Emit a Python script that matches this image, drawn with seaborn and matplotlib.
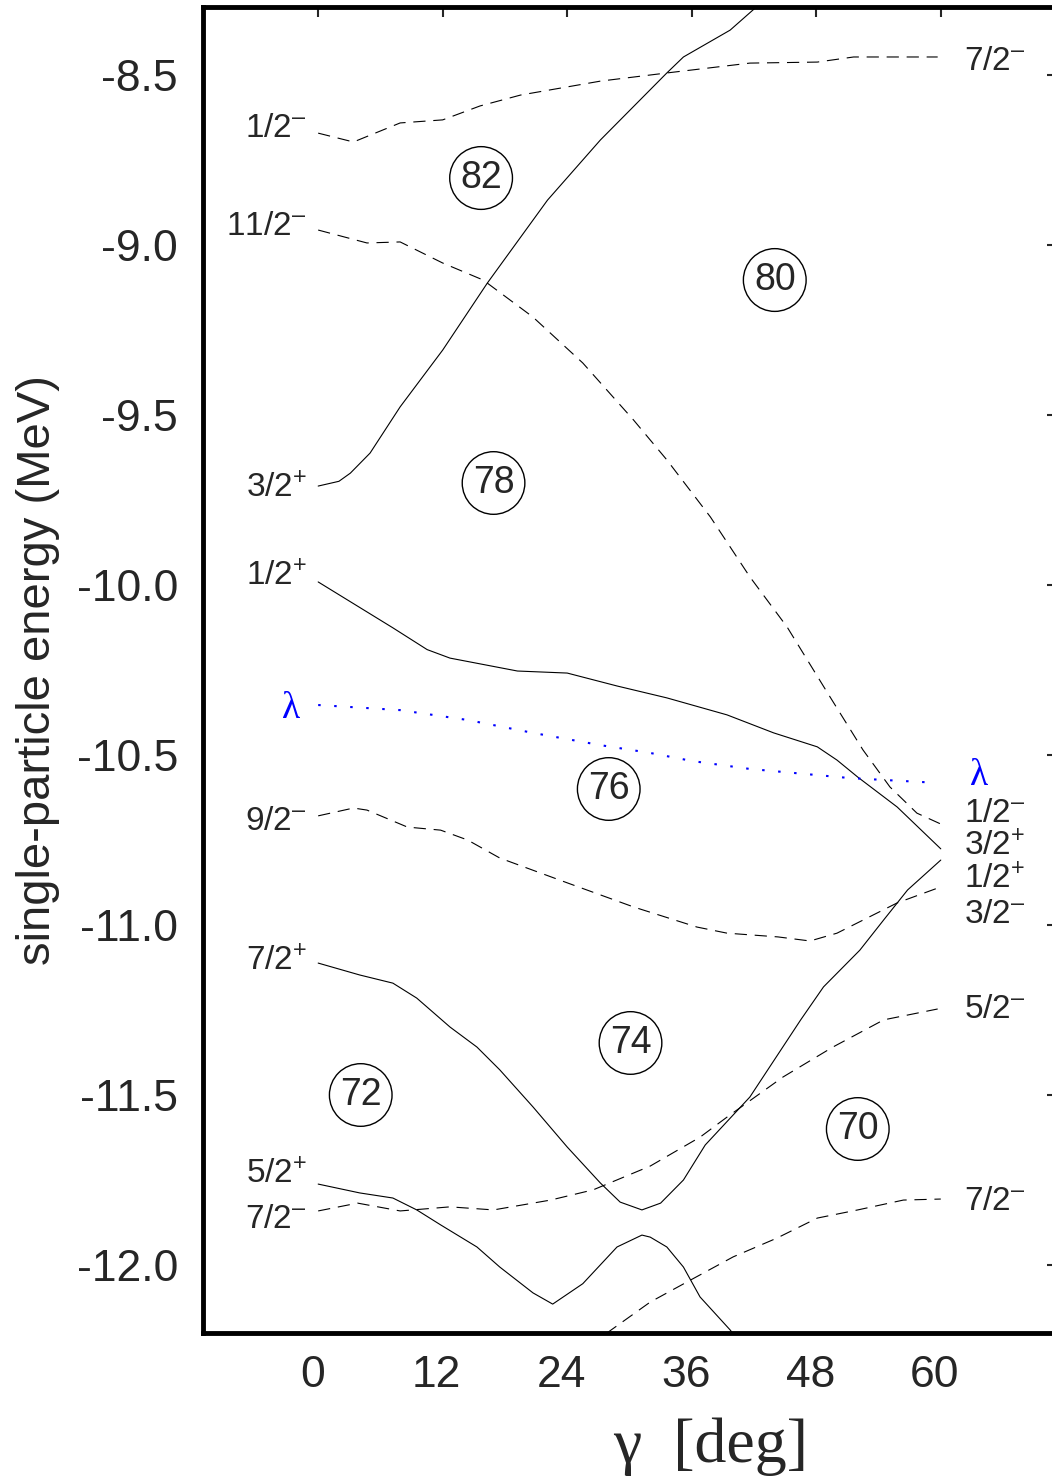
import numpy as np
import pandas as pd
import seaborn as sns
import matplotlib.pyplot as plt
from matplotlib.transforms import ScaledTranslation

# single-particle levels vs gamma
g_top_12m = [0, 3.4, 7.9, 12.0, 15.6, 19.5, 27.2, 33.6, 41.6, 48.1, 51.6, 59.7]
e_top_12m = [-8.671, -8.697, -8.641, -8.632, -8.591, -8.559, -8.518, -8.494, -8.465, -8.462, -8.447, -8.447]

g_112m = [0, 4.7, 7.9, 12.0, 15.9, 20.7, 25.5, 30.4, 33.6, 37.8, 41.6, 45.2, 49.1, 52.5, 55.1, 57.7, 60.0]
e_112m = [-8.956, -8.994, -8.991, -9.053, -9.103, -9.212, -9.347, -9.515, -9.632, -9.800, -9.976,
          -10.124, -10.318, -10.485, -10.594, -10.671, -10.703]

g_32p = [0, 2.0, 3.1, 5.0, 7.9, 12.0, 16.3, 22.1, 27.2, 33.6, 35.2, 39.7, 42.6]
e_32p = [-9.709, -9.695, -9.671, -9.612, -9.476, -9.309, -9.112, -8.868, -8.691, -8.494, -8.447,
         -8.368, -8.29]

g_12p = [0, 7.2, 10.5, 12.7, 19.2, 24.0, 28.8, 33.6, 39.4, 43.9, 48.1, 50.0, 52.0, 55.8, 60.0]
e_12p = [-9.991, -10.126, -10.190, -10.215, -10.253, -10.259, -10.297, -10.332, -10.382, -10.435,
         -10.476, -10.515, -10.565, -10.653, -10.776]

g_lam = [0, 7.9, 14.4, 20.7, 27.2, 32.0, 36.1, 41.6, 51.3, 59.7]
e_lam = [-10.353, -10.368, -10.397, -10.435, -10.471, -10.494, -10.518, -10.541, -10.568, -10.582]

g_92m = [0, 3.4, 4.7, 8.6, 11.8, 14.4, 17.5, 24.0, 30.4, 36.5, 39.4, 44.3, 47.4, 50.0, 55.8, 60.0]
e_92m = [-10.679, -10.656, -10.662, -10.712, -10.721, -10.750, -10.803, -10.876, -10.947, -11.006,
         -11.024, -11.035, -11.047, -11.024, -10.935, -10.888]

g_72p = [0, 4.0, 7.2, 9.5, 12.7, 15.3, 17.5, 20.7, 24.0, 27.2, 29.1, 31.2, 33.0, 35.2, 37.3,
         41.6, 46.5, 48.7, 52.2, 54.5, 56.8, 60.0]
e_72p = [-11.112, -11.147, -11.171, -11.215, -11.300, -11.359, -11.426, -11.535, -11.653, -11.759,
         -11.815, -11.838, -11.818, -11.750, -11.647, -11.506, -11.279, -11.182, -11.074, -10.985,
         -10.897, -10.809]

g_52p = [0, 4.0, 7.2, 9.5, 11.8, 15.3, 17.5, 20.7, 22.6, 25.5, 28.8, 31.2, 32.0, 33.6,
         35.2, 36.8, 39.7, 41.2]
e_52p = [-11.762, -11.788, -11.803, -11.838, -11.882, -11.947, -12.006, -12.082, -12.115,
         -12.055, -11.947, -11.912, -11.918, -11.947, -12.006, -12.094, -12.191, -12.25]

g_72m = [0, 3.8, 7.9, 12.7, 16.9, 22.4, 26.5, 32.0, 36.8, 39.4, 44.8, 49.6, 54.5, 59.7]
e_72m = [-11.841, -11.818, -11.841, -11.829, -11.838, -11.809, -11.779, -11.709, -11.624, -11.565,
         -11.447, -11.359, -11.279, -11.247]

g_low = [26.2, 28.1, 32.0, 35.9, 40.0, 44.2, 48.1, 52.0, 56.4, 60.0]
e_low = [-12.235, -12.194, -12.109, -12.044, -11.976, -11.921, -11.862, -11.838, -11.809, -11.806]

# level labels: energy of baseline, text
left_labels = [(-8.682, "1/2$^{–}$"), (-8.971, "11/2$^{–}$"), (-9.741, "3/2$^{+}$"),
               (-10.0, "1/2$^{+}$"), (-10.721, "9/2$^{–}$"), (-11.132, "7/2$^{+}$"),
               (-11.759, "5/2$^{+}$"), (-11.891, "7/2$^{–}$")]
right_labels = [(-8.485, "7/2$^{–}$"), (-10.697, "1/2$^{–}$"), (-10.794, "3/2$^{+}$"),
                (-10.891, "1/2$^{+}$"), (-10.994, "3/2$^{–}$"), (-11.274, "5/2$^{–}$"),
                (-11.838, "7/2$^{–}$")]

# particle numbers in the gaps
gap_g = [15.7, 44.0, 16.9, 28.0, 30.1, 4.1, 52.0]
gap_e = [-8.803, -9.103, -9.700, -10.600, -11.347, -11.500, -11.600]
gap_n = ["82", "80", "78", "76", "74", "72", "70"]

sns.set_style("white")
plt.rcParams['font.family'] = ['Liberation Sans', 'DejaVu Sans']
plt.rcParams['mathtext.fontset'] = 'custom'
plt.rcParams['mathtext.rm'] = 'Liberation Sans'
plt.rcParams['mathtext.default'] = 'regular'
plt.rcParams['axes.unicode_minus'] = False

fig = plt.figure(figsize=(10.52, 14.81), dpi=100)
ax = fig.add_axes([203 / 1052, 1 - 1333 / 1481, 854 / 1052, 1326 / 1481])

dash = (0, (11, 7))
curves = [
    (g_top_12m, e_top_12m, dash),
    (g_112m, e_112m, dash),
    (g_32p, e_32p, "-"),
    (g_12p, e_12p, "-"),
    (g_92m, e_92m, dash),
    (g_72p, e_72p, "-"),
    (g_52p, e_52p, "-"),
    (g_72m, e_72m, dash),
    (g_low, e_low, dash),
]
for g, e, ls in curves:
    df = pd.DataFrame({"gamma": g, "energy": e})
    sns.lineplot(data=df, x="gamma", y="energy", color="black", linestyle=ls, linewidth=0.8,
                 sort=False, estimator=None, ax=ax)
df = pd.DataFrame({"gamma": g_lam, "energy": e_lam})
sns.lineplot(data=df, x="gamma", y="energy", color="blue", linestyle=(0, (1.2, 6.5)),
             linewidth=1.5, sort=False, estimator=None, ax=ax)

for e, t in left_labels:
    ax.text(-1.1, e, t, ha="right", va="baseline", fontsize=24)
for e, t in right_labels:
    ax.text(62.2, e, t, ha="left", va="baseline", fontsize=24)
ax.text(-1.7, -10.391, "λ", ha="right", va="baseline", color="blue", fontsize=27,
        family=["Liberation Serif", "DejaVu Serif"])
ax.text(62.8, -10.588, "λ", ha="left", va="baseline", color="blue", fontsize=27,
        family=["Liberation Serif", "DejaVu Serif"])

for g, e, n in zip(gap_g, gap_e, gap_n):
    ax.text(g, e, n, ha="center", va="center", fontsize=27,
            bbox=dict(boxstyle="circle,pad=0.28", fc="none", ec="black", lw=1.0))

ax.set_xlim(-11.1, 71.2)
ax.set_ylim(-12.2, -8.30)
ax.set_xticks([0, 12, 24, 36, 48, 60])
yt = [-8.5, -9.0, -9.5, -10.0, -10.5, -11.0, -11.5, -12.0]
ax.set_yticks(yt)
ax.set_yticklabels([f"{v:.1f}" for v in yt])
ax.tick_params(direction="in", length=7, width=1.5, labelsize=32, top=True, right=True)
ax.tick_params(axis="y", pad=18)
ax.tick_params(axis="x", pad=16)
for lab in ax.get_xticklabels():
    lab.set_transform(lab.get_transform() + ScaledTranslation(-6 / 100, 0, fig.dpi_scale_trans))
for s in ax.spines.values():
    s.set_linewidth(3.5)
    s.set_color("black")

ax.set_ylabel("single-particle energy (MeV)", fontsize=34)
ax.yaxis.set_label_coords(-0.167, 0.5)
ax.set_xlabel("γ  [deg]", fontsize=46, family=["Liberation Serif", "DejaVu Serif"])
ax.xaxis.set_label_coords(0.594, -0.064)

fig.savefig("out.png", dpi=100)
